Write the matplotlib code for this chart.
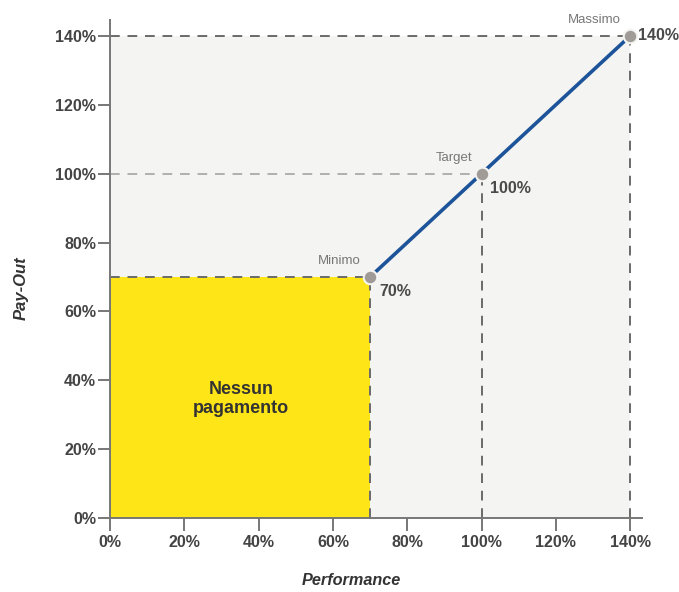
import matplotlib
matplotlib.use("Agg")
import matplotlib.pyplot as plt
from matplotlib.patches import Rectangle

plt.rcParams["font.family"] = ["Liberation Sans", "DejaVu Sans"]

# data
point_names = ["Minimo", "Target", "Massimo"]
performance = [70, 100, 140]
payout = [70, 100, 140]
point_labels = ["70%", "100%", "140%"]
ticks = [0, 20, 40, 60, 80, 100, 120, 140]
tick_labels = [f"{t}%" for t in ticks]
no_pay_label = "Nessun\npagamento"

fig = plt.figure(figsize=(6.79, 5.92), dpi=100)
ax = fig.add_axes([0.162, 0.125, 0.7835, 0.841])
ax.set_xlim(0, 143.2)
ax.set_ylim(0, 144.6)

# backgrounds
ax.add_patch(Rectangle((0, 0), performance[-1], payout[-1], color="#f4f4f3", zorder=0, lw=0))
ax.add_patch(Rectangle((0, 0), performance[0], payout[0], color="#fde518", zorder=1, lw=0))

# dashed guides
dash = dict(linestyle=(0, (5, 4)), linewidth=1.4, zorder=2)
for i, (x, y) in enumerate(zip(performance, payout)):
    hcol = "#b0b0b0" if i == 1 else "#6a6a6a"
    ax.plot([0, x], [y, y], color=hcol, **dash)
    ax.plot([x, x], [0, y], color="#6a6a6a", **dash)

ax.plot(performance, payout, color="#1d5499", linewidth=2.6, zorder=3, solid_capstyle="butt")
ax.scatter(performance, payout, s=95, color="#a09b96", zorder=4,
           edgecolors="#f4f4f3", linewidths=1.5)

for name, x, y, lab in zip(point_names, performance, payout, point_labels):
    ax.text(x - 2.5, y + 4.5, name, fontsize=9.5, color="#777777", ha="right", va="center")
    if lab == "140%":
        ax.text(x + 2.2, y, lab, fontsize=11.5, fontweight="bold", color="#4a4a4a",
                ha="left", va="center")
    else:
        ax.text(x + 2.4, y - 4.2, lab, fontsize=11.5, fontweight="bold", color="#4a4a4a",
                ha="left", va="center")

ax.text(35.3, 34.6, no_pay_label, fontsize=13, fontweight="bold", color="#333333",
        ha="center", va="center", linespacing=1.2, zorder=5)

for side in ["top", "right"]:
    ax.spines[side].set_visible(False)
for side in ["left", "bottom"]:
    ax.spines[side].set_color("#777777")
    ax.spines[side].set_linewidth(1.4)

ax.set_xticks(ticks)
ax.set_xticklabels(tick_labels)
ax.set_yticks(ticks)
ax.set_yticklabels(tick_labels)
ax.tick_params(axis="both", direction="out", length=9, width=1.4, color="#777777",
               labelsize=11.5, labelcolor="#444444", pad=3)
for lab in ax.get_xticklabels() + ax.get_yticklabels():
    lab.set_fontweight("bold")
ax.tick_params(axis="y", pad=1)

fig.text(0.031, 0.513, "Pay-Out", rotation=90, fontsize=12, fontweight="bold", fontstyle="italic",
         color="#333333", ha="center", va="center")
fig.text(0.517, 0.006, "Performance", fontsize=11.7, fontweight="bold", fontstyle="italic",
         color="#333333", ha="center", va="bottom")

fig.savefig("out.png", dpi=100)
